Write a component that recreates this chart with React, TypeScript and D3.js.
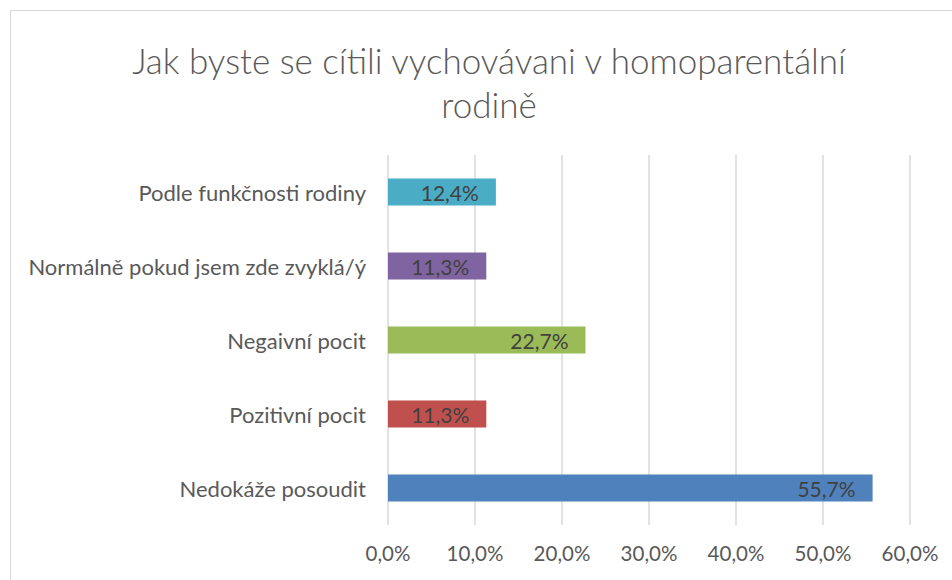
import React, { useEffect, useRef } from 'react'
import * as d3 from 'd3'

const categories = [
  'Podle funkčnosti rodiny',
  'Normálně pokud jsem zde zvyklá/ý',
  'Negaivní pocit',
  'Pozitivní pocit',
  'Nedokáže posoudit',
]
const values = [0.124, 0.113, 0.227, 0.113, 0.557]
const barColors = ['#4BACC6', '#8064A2', '#9BBB59', '#C0504D', '#4F81BD']
const xTicks = [0, 0.1, 0.2, 0.3, 0.4, 0.5, 0.6]
const titleLines = ['Jak byste se cítili vychovávani v homoparentální', 'rodině']

const fmt = (v: number) => (v * 100).toFixed(1).replace('.', ',') + '%'

export default function App() {
  const svgRef = useRef<SVGSVGElement>(null)

  useEffect(() => {
    const svg = d3.select(svgRef.current)
    svg.selectAll('*').remove()

    const width = 952
    const height = 580
    const font = 'Lato, Carlito, Calibri, sans-serif'

    svg.attr('width', width).attr('height', height)

    // chart area border (extends past the window on the right and bottom)
    svg.append('rect')
      .attr('x', 10.5)
      .attr('y', 10.5)
      .attr('width', 958)
      .attr('height', 600)
      .attr('fill', '#fff')
      .attr('stroke', '#d9d9d9')
      .attr('stroke-width', 1)

    const x = d3.scaleLinear().domain([0, 0.6]).range([388, 910])
    const y = d3.scaleBand<string>()
      .domain(categories)
      .range([155, 525])
      .paddingInner(0.635)
      .paddingOuter(0.3175)

    // title
    svg.append('g')
      .selectAll('text')
      .data(titleLines)
      .join('text')
      .attr('x', 489)
      .attr('y', (_, i) => 60 + i * 44)
      .attr('text-anchor', 'middle')
      .attr('dominant-baseline', 'central')
      .style('font-family', font)
      .style('font-weight', '300')
      .style('font-size', '35px')
      .style('fill', '#595959')
      .text(d => d)

    // gridlines
    svg.append('g')
      .selectAll('line')
      .data(xTicks)
      .join('line')
      .attr('x1', d => x(d))
      .attr('x2', d => x(d))
      .attr('y1', 155)
      .attr('y2', 525)
      .attr('stroke', '#d9d9d9')
      .attr('stroke-width', 1.5)

    // tick labels
    svg.append('g')
      .selectAll('text')
      .data(xTicks)
      .join('text')
      .attr('x', d => x(d))
      .attr('y', 553)
      .attr('text-anchor', 'middle')
      .attr('dominant-baseline', 'central')
      .style('font-family', font)
      .style('font-size', '20.5px')
      .style('fill', '#595959')
      .text(d => fmt(d))

    // bars
    svg.append('g')
      .selectAll('rect')
      .data(categories)
      .join('rect')
      .attr('x', x(0))
      .attr('y', d => y(d)!)
      .attr('width', (_, i) => x(values[i]) - x(0))
      .attr('height', y.bandwidth())
      .attr('fill', (_, i) => barColors[i])

    // category labels
    svg.append('g')
      .selectAll('text')
      .data(categories)
      .join('text')
      .attr('x', 366)
      .attr('y', d => y(d)! + y.bandwidth() / 2)
      .attr('text-anchor', 'end')
      .attr('dominant-baseline', 'central')
      .style('font-family', font)
      .style('font-size', '22px')
      .style('fill', '#595959')
      .text(d => d)

    // data labels (inside end)
    svg.append('g')
      .selectAll('text')
      .data(categories)
      .join('text')
      .attr('x', (_, i) => x(values[i]) - 17)
      .attr('y', d => y(d)! + y.bandwidth() / 2)
      .attr('text-anchor', 'end')
      .attr('dominant-baseline', 'central')
      .style('font-family', font)
      .style('font-size', '21px')
      .style('fill', '#404040')
      .text((_, i) => fmt(values[i]))
  }, [])

  return (
    <div style={{ position: 'absolute', left: 0, top: 0 }}>
      <svg ref={svgRef} style={{ display: 'block' }} />
    </div>
  )
}
